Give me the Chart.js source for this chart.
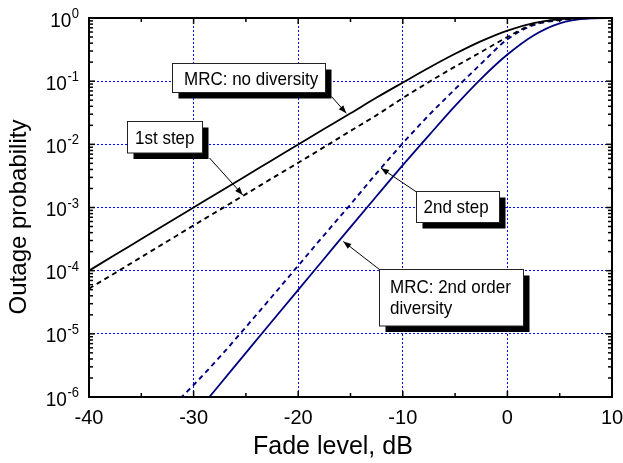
<!DOCTYPE html>
<html>
<head>
<meta charset="utf-8">
<script src="https://cdn.jsdelivr.net/npm/chart.js@4.4.1/dist/chart.umd.min.js"></script>
<style>
html,body{margin:0;padding:0;background:#fff;}
canvas{display:block;}
</style>
</head>
<body>
<canvas id="c" width="623" height="463"></canvas>
<script>
// ---- data ----
const fadeLevels = [-40,-37.5,-35,-32.5,-30,-27.5,-25,-22.5,-20,-17.5,-15,-12.5,-10,-7.5,-5,-2.5,0,2.5,5,7.5,10];
const noDiversity = [1.0e-4,1.78e-4,3.16e-4,5.62e-4,1.0e-3,1.78e-3,3.16e-3,5.6e-3,9.95e-3,0.0176,0.031,0.055,0.095,0.163,0.271,0.43,0.632,0.83,0.958,0.9965,0.9999];
const firstStep   = [5.2e-5,9.2e-5,1.64e-4,2.92e-4,5.2e-4,9.2e-4,1.63e-3,2.9e-3,5.1e-3,9.1e-3,0.0163,0.029,0.054,0.097,0.17,0.29,0.5,0.8,0.94,0.993,0.9998];
const secondStep  = [null,null,null,6.0e-7,1.55e-6,4.3e-6,1.28e-5,3.9e-5,1.2e-4,3.7e-4,1.12e-3,3.5e-3,0.0104,0.029,0.075,0.19,0.46,0.77,0.925,0.99,0.999];
const secondOrder = [null,null,null,null,5.0e-7,1.58e-6,5.0e-6,1.58e-5,4.97e-5,1.56e-4,4.9e-4,1.52e-3,4.68e-3,0.0139,0.0406,0.11,0.264,0.53,0.824,0.976,0.9995];
const xTickValues = [-40,-30,-20,-10,0,10];
const xMinorStep = 5;
const yExponents = [0,-1,-2,-3,-4,-5,-6];
const xTitle = 'Fade level, dB';
const yTitle = 'Outage probability';

// annotation call-outs: box layout in pixels, arrow tip in data units
const callouts = [
  {lines:['MRC: no diversity'], box:[172.5,63.5,153,29], textX:184, baselines:[84.5], tail:[331.5,96.5], tip:[-15.4,0.031]},
  {lines:['1st step'], box:[127.5,121.5,75,31.5], textX:135, baselines:[143.5], tail:[209.5,158], tip:[-25.3,1.58e-3]},
  {lines:['2nd step'], box:[416.5,191.5,83,31], textX:423.5, baselines:[213], tail:[416.5,192], tip:[-12.08,4.2e-3]},
  {lines:['MRC: 2nd order','diversity'], box:[379.5,269.5,144,56.5], textX:390, baselines:[293,313.5], tail:[379.5,269.5], tip:[-15.69,2.9e-4]}
];

const FONT = '"Liberation Sans", Arial, Helvetica, sans-serif';
const navy = '#00007f';

function pts(arr){ return fadeLevels.map((f,i)=>({x:f,y:arr[i]})).filter(p=>p.y!==null); }

// draw text stretched vertically (the reference glyphs are a little tall)
function tallText(ctx, str, x, y, sy){
  ctx.save();
  ctx.translate(x, y);
  ctx.scale(1, sy);
  ctx.fillText(str, 0, 0);
  ctx.restore();
}

const decor = {
  id:'decor',
  afterDraw(chart){
    const {ctx, chartArea:a, scales:{x, y}} = chart;
    ctx.save();
    ctx.fillStyle = '#000';
    ctx.strokeStyle = '#000';
    // frame
    ctx.lineWidth = 2;
    ctx.strokeRect(a.left, a.top, a.right - a.left, a.bottom - a.top);
    // x ticks (inward, bottom and top)
    ctx.lineWidth = 1.5;
    const seg = (x1,y1,x2,y2)=>{ctx.beginPath();ctx.moveTo(x1,y1);ctx.lineTo(x2,y2);ctx.stroke();};
    for (let v = x.min; v <= x.max + 1e-9; v += xMinorStep){
      const px = x.getPixelForValue(v);
      const major = xTickValues.includes(v);
      const len = major ? 6 : 4;
      seg(px, a.bottom, px, a.bottom - len);
      seg(px, a.top, px, a.top + len);
    }
    // y ticks (inward, left and right)
    yExponents.forEach(e=>{
      const py = y.getPixelForValue(Math.pow(10,e));
      seg(a.left, py, a.left + 6, py);
      seg(a.right, py, a.right - 6, py);
      if (e < 0){
        for (let k = 2; k <= 9; k++){
          const pm = y.getPixelForValue(k*Math.pow(10,e));
          seg(a.left, pm, a.left + 4, pm);
          seg(a.right, pm, a.right - 4, pm);
        }
      }
    });
    // x tick labels
    ctx.font = '20px ' + FONT;
    ctx.textAlign = 'center';
    ctx.textBaseline = 'alphabetic';
    xTickValues.forEach(v=>{
      ctx.fillText(String(v), x.getPixelForValue(v), a.bottom + 27);
    });
    // y tick labels 10^e
    yExponents.forEach(e=>{
      const py = y.getPixelForValue(Math.pow(10,e));
      const right = a.left - 10;
      ctx.font = '13px ' + FONT;
      ctx.textAlign = 'right';
      ctx.textBaseline = 'alphabetic';
      const expStr = String(e);
      const ew = ctx.measureText(expStr).width;
      tallText(ctx, expStr, right, py, 1.08);
      ctx.font = '19px ' + FONT;
      ctx.textBaseline = 'alphabetic';
      tallText(ctx, '10', right - ew - 0.5, py + 8.5, 1.1);
    });
    // axis titles
    ctx.font = '25px ' + FONT;
    ctx.textAlign = 'left';
    ctx.textBaseline = 'alphabetic';
    ctx.fillText(xTitle, 253, 454);
    ctx.save();
    ctx.translate(26, 217);
    ctx.rotate(-Math.PI/2);
    ctx.font = '24px ' + FONT;
    ctx.textAlign = 'center';
    ctx.fillText(yTitle, 0, 0);
    ctx.restore();
    // call-outs
    callouts.forEach(c=>{
      const [bx,by,bw,bh] = c.box;
      const tx = x.getPixelForValue(c.tip[0]);
      const ty = y.getPixelForValue(c.tip[1]);
      // arrow
      ctx.strokeStyle = '#000';
      ctx.fillStyle = '#000';
      ctx.lineWidth = 1;
      seg(c.tail[0], c.tail[1], tx, ty);
      const ang = Math.atan2(ty - c.tail[1], tx - c.tail[0]);
      const L = 8, W = 3;
      ctx.beginPath();
      ctx.moveTo(tx, ty);
      ctx.lineTo(tx - L*Math.cos(ang) + W*Math.sin(ang), ty - L*Math.sin(ang) - W*Math.cos(ang));
      ctx.lineTo(tx - L*Math.cos(ang) - W*Math.sin(ang), ty - L*Math.sin(ang) + W*Math.cos(ang));
      ctx.closePath();
      ctx.fill();
      // shadow + box
      ctx.fillStyle = '#000';
      ctx.fillRect(bx + 6, by + 6, bw, bh);
      ctx.fillStyle = '#fff';
      ctx.fillRect(bx, by, bw, bh);
      ctx.strokeStyle = '#222';
      ctx.lineWidth = 1;
      ctx.strokeRect(bx, by, bw, bh);
      ctx.fillStyle = '#000';
      ctx.font = '17px ' + FONT;
      ctx.textAlign = 'left';
      ctx.textBaseline = 'alphabetic';
      c.lines.forEach((t,i)=>tallText(ctx, t, c.textX, c.baselines[i], 1.12));
    });
    ctx.restore();
  }
};

const gridOpts = {color:'#0000ff', lineWidth:1, drawTicks:false};
const borderOpts = {display:false, dash:[2,2]};

new Chart(document.getElementById('c'), {
  type:'line',
  data:{datasets:[
    {label:'MRC: no diversity', data:pts(noDiversity), borderColor:'#000', borderWidth:1.8},
    {label:'1st step', data:pts(firstStep), borderColor:'#000', borderWidth:1.9, borderDash:[5,4]},
    {label:'2nd step', data:pts(secondStep), borderColor:navy, borderWidth:1.9, borderDash:[5,4]},
    {label:'MRC: 2nd order diversity', data:pts(secondOrder), borderColor:navy, borderWidth:1.8}
  ]},
  options:{
    responsive:false,
    animation:false,
    devicePixelRatio:1,
    layout:{padding:{left:89, right:11, top:18, bottom:66}},
    elements:{point:{radius:0, hoverRadius:0}, line:{cubicInterpolationMode:'monotone', fill:false}},
    plugins:{legend:{display:false}, tooltip:{enabled:false}},
    events:[],
    scales:{
      x:{type:'linear', min:-40, max:10,
         afterBuildTicks:s=>{s.ticks = xTickValues.map(v=>({value:v}));},
         ticks:{display:false}, grid:gridOpts, border:borderOpts},
      y:{type:'logarithmic', min:1e-6, max:1,
         afterBuildTicks:s=>{s.ticks = yExponents.map(e=>({value:Math.pow(10,e)}));},
         ticks:{display:false}, grid:gridOpts, border:borderOpts}
    }
  },
  plugins:[decor]
});
</script>
</body>
</html>
